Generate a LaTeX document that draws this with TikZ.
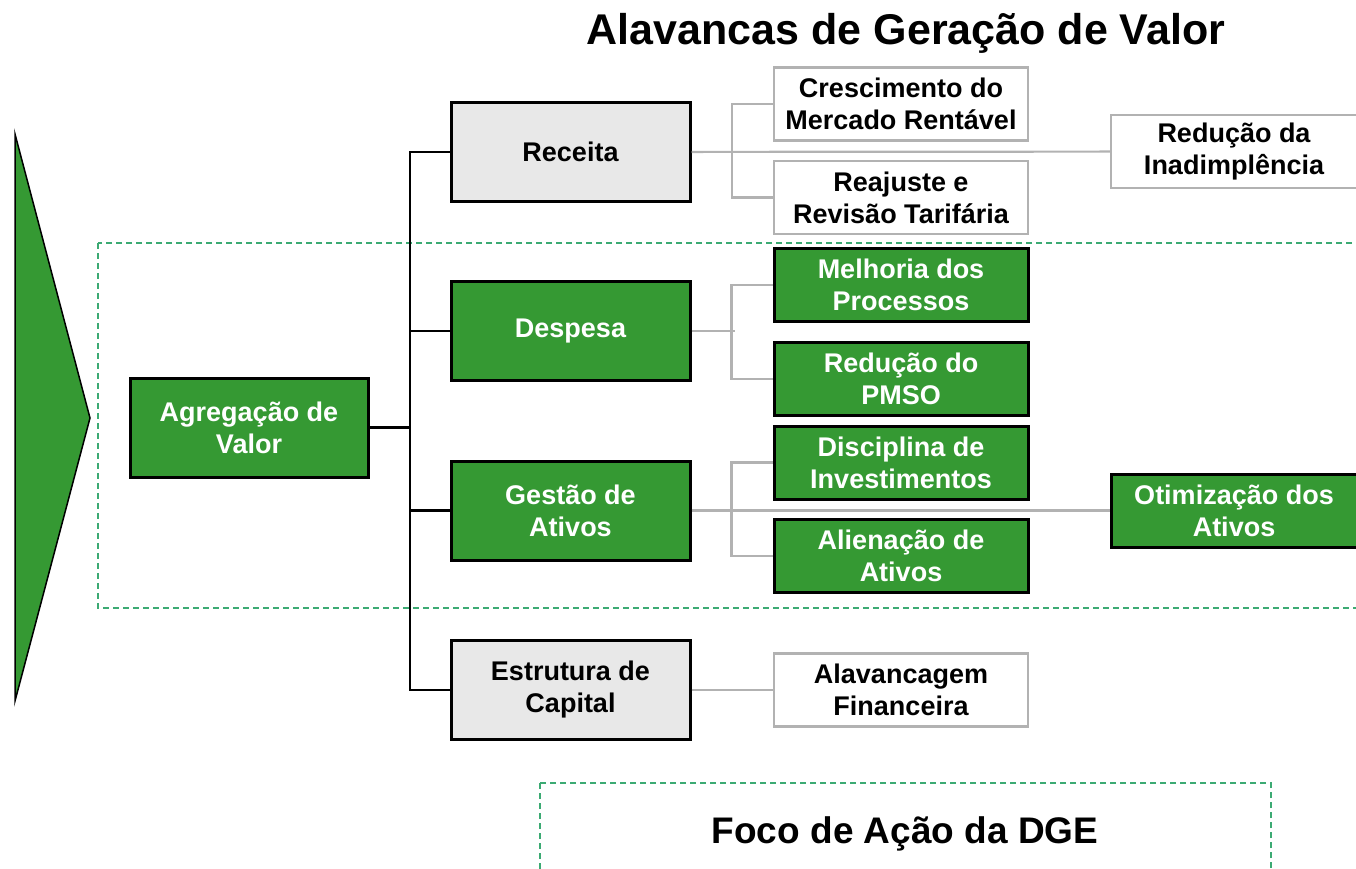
\documentclass[tikz,border=0pt]{standalone}
\usepackage{fontspec}
\setmainfont{Liberation Sans}
\usepackage{tikz}
\definecolor{verde}{RGB}{53,153,51}
\definecolor{cinza}{RGB}{232,232,232}
\definecolor{linhacinza}{RGB}{178,178,178}
\definecolor{tracejado}{RGB}{60,170,115}

\begin{document}
\begin{tikzpicture}[x=1pt,y=-1pt]
    \useasboundingbox (0,0) rectangle (1356,869);
    \clip (0,0) rectangle (1356,869);
    \tikzstyle{every node}=[font=\fontsize{27}{32}\selectfont\bfseries,align=center,inner sep=0pt]
    \tikzstyle{verdebox}=[draw=black,line width=3pt,fill=verde,text=white]
    \tikzstyle{cinzabox}=[draw=black,line width=3pt,fill=cinza]
    \tikzstyle{brancobox}=[draw=linhacinza,line width=2.5pt,fill=white]
    \tikzstyle{nivel2}=[minimum width=239,minimum height=99]
    \tikzstyle{nivel3}=[minimum width=254,minimum height=73]
    \tikzstyle{preta}=[draw=black,line width=2.2pt]
    \tikzstyle{cinzenta}=[draw=linhacinza,line width=2.2pt]
    \tikzstyle{foco}=[draw=tracejado,line width=1.2pt,dash pattern=on 6pt off 4pt]
    % fundo
    \filldraw[fill=verde,draw=black,line width=1.5pt] (15,134) -- (90,418) -- (15,701) -- cycle;
    \draw[foco] (98,243) rectangle (1370,608);
    \draw[foco] (540,783) rectangle (1271,890);
    \node[anchor=base,font=\fontsize{43}{50}\selectfont\bfseries] (Titulo) at (906,45) {Alavancas de Geração de Valor};
    \node[anchor=base,font=\fontsize{37}{44}\selectfont\bfseries] (DGE) at (905,843) {Foco de Ação da DGE};
    % nos
    \node[verdebox,minimum width=238,minimum height=99] (Valor) at (249,427.5) {Agregação de\\Valor};
    \node[cinzabox,nivel2] (Receita) at (570.5,152) {Receita};
    \node[verdebox,nivel2] (Despesa) at (570.5,331) {Despesa};
    \node[verdebox,nivel2] (Gestao) at (570.5,510.5) {Gestão de\\Ativos};
    \node[cinzabox,nivel2] (Estrutura) at (570.5,690) {Estrutura de\\Capital};
    \node[brancobox,nivel3] (Crescimento) at (901,104) {Crescimento do\\Mercado Rentável};
    \node[brancobox,nivel3] (Reajuste) at (901,197.5) {Reajuste e\\Revisão Tarifária};
    \node[verdebox,nivel3] (Melhoria) at (901,285) {Melhoria dos\\Processos};
    \node[verdebox,nivel3] (PMSO) at (901,379) {Redução do\\PMSO};
    \node[verdebox,nivel3] (Disciplina) at (901,462.5) {Disciplina de\\Investimentos};
    \node[verdebox,nivel3] (Alienacao) at (901,556) {Alienação de\\Ativos};
    \node[brancobox,nivel3] (Alavancagem) at (901,690) {Alavancagem\\Financeira};
    \node[brancobox,minimum width=246,minimum height=73] (Inadimplencia) at (1234,151.5) {Redução da\\Inadimplência};
    \node[verdebox,minimum width=246,minimum height=73] (Otimizacao) at (1234,510.5) {Otimização dos\\Ativos};
    % ligacoes
    \coordinate (tronco) at (410,427.5);
    \draw[preta] (Valor) to (tronco);
    \draw[preta] (Receita.west) -- (Receita.west -| tronco) -- (Estrutura.west -| tronco) -- (Estrutura.west);
    \draw[preta] (Despesa.west -| tronco) -- (Despesa.west);
    \draw[preta] (Gestao.west -| tronco) -- (Gestao.west);
    \draw[cinzenta] (Receita) to (Inadimplencia);
    \draw[cinzenta] (Crescimento.west) -- ++(-41,0) |- (Reajuste.west);
    \draw[cinzenta] (Despesa.east) -- ++(43,0);
    \draw[cinzenta] (Melhoria.west) -- ++(-41,0) |- (PMSO.west);
    \draw[cinzenta] (Gestao) to (Otimizacao);
    \draw[cinzenta] (Disciplina.west) -- ++(-41,0) |- (Alienacao.west);
    \draw[cinzenta] (Estrutura) to (Alavancagem);
\end{tikzpicture}
\end{document}
